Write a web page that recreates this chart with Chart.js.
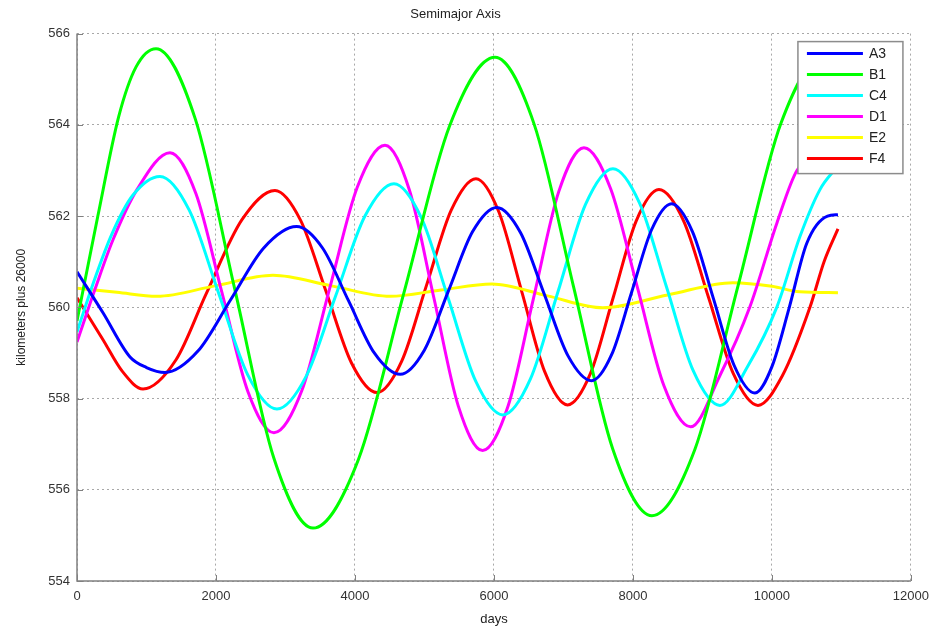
<!DOCTYPE html>
<html>
<head>
<meta charset="utf-8">
<title>Semimajor Axis</title>
<script src="https://cdn.jsdelivr.net/npm/chart.js@4.4.0/dist/chart.umd.min.js"></script>
<style>
  html, body { margin: 0; padding: 0; background: #fff; }
  #wrap { width: 937px; height: 630px; }
</style>
</head>
<body>
<div id="wrap"><canvas id="SemiChart"></canvas></div>
<script>
// values (days, km above 26000)
const a3Days = [0, 374, 763, 1000, 1266, 1740, 2213, 2687, 3160, 3533, 3905, 4278, 4650, 4998, 5345, 5693, 6040, 6381, 6723, 7064, 7405, 7693, 7981, 8268, 8556, 8856, 9156, 9455, 9755, 10000, 10250, 10500, 10800, 10950];
const a3Km   = [560.78, 559.88, 558.91, 558.68, 558.57, 559.04, 560.17, 561.30, 561.77, 561.30, 560.15, 559.00, 558.53, 559.06, 560.36, 561.66, 562.19, 561.64, 560.29, 558.94, 558.39, 558.96, 560.33, 561.70, 562.27, 561.66, 560.20, 558.73, 558.12, 558.70, 560.00, 561.40, 562.00, 562.03];

const b1Days = [0, 300, 600, 850, 1137, 1702, 2267, 2831, 3396, 4051, 4705, 5360, 6014, 6579, 7144, 7708, 8273, 8892, 9512, 10131, 10750, 10950];
const b1Km   = [559.70, 562.00, 564.18, 565.27, 565.67, 564.13, 560.42, 556.70, 555.16, 556.67, 560.32, 563.97, 565.48, 564.01, 560.46, 556.90, 555.43, 556.89, 560.47, 564.04, 565.50, 565.45];

const c4Days = [0, 250, 500, 800, 1194, 1615, 2036, 2457, 2878, 3299, 3720, 4140, 4561, 4953, 5345, 5737, 6129, 6525, 6921, 7316, 7712, 8097, 8482, 8867, 9252, 9650, 10072, 10403, 10691, 10950];
const c4Km   = [559.46, 560.60, 561.60, 562.45, 562.87, 562.13, 560.32, 558.52, 557.77, 558.49, 560.24, 561.99, 562.71, 561.97, 560.18, 558.38, 557.64, 558.43, 560.34, 562.25, 563.04, 562.28, 560.45, 558.61, 557.85, 558.70, 560.01, 561.55, 562.58, 563.10];

const d1Days = [0, 260, 518, 863, 1338, 1712, 2086, 2460, 2834, 3234, 3633, 4033, 4432, 4783, 5135, 5486, 5837, 6202, 6566, 6931, 7295, 7679, 8063, 8446, 8830, 9250, 9683, 10072, 10360, 10650, 10950];
const d1Km   = [559.24, 560.40, 561.48, 562.58, 563.39, 562.49, 560.32, 558.15, 557.25, 558.17, 560.40, 562.63, 563.55, 562.57, 560.21, 557.84, 556.86, 557.83, 560.18, 562.53, 563.50, 562.60, 560.44, 558.28, 557.38, 558.50, 560.01, 561.85, 563.00, 563.30, 563.10];

const e2Days = [0, 575, 1150, 1985, 2820, 3660, 4504, 5240, 5971, 6770, 7568, 8500, 9439, 10000, 10400, 10950];
const e2Km   = [560.42, 560.33, 560.24, 560.47, 560.70, 560.47, 560.24, 560.38, 560.51, 560.25, 559.99, 560.27, 560.54, 560.46, 560.34, 560.32];

const f4Days = [0, 374, 650, 950, 1425, 1860, 2374, 2849, 3216, 3583, 3950, 4317, 4673, 5029, 5385, 5741, 6071, 6401, 6730, 7060, 7389, 7717, 8046, 8374, 8730, 9087, 9443, 9799, 10150, 10547, 10750, 10950];
const f4Km   = [560.21, 559.29, 558.60, 558.21, 558.85, 560.30, 561.92, 562.56, 561.91, 560.35, 558.78, 558.13, 558.82, 560.48, 562.13, 562.82, 562.09, 560.34, 558.59, 557.86, 558.55, 560.22, 561.89, 562.58, 561.89, 560.22, 558.55, 557.85, 558.50, 560.00, 561.00, 561.72];

const seriesNames  = ["A3", "B1", "C4", "D1", "E2", "F4"];
const seriesColors = ["#0000ff", "#00ff00", "#00ffff", "#ff00ff", "#ffff00", "#ff0000"];
const seriesDays   = [a3Days, b1Days, c4Days, d1Days, e2Days, f4Days];
const seriesKm     = [a3Km, b1Km, c4Km, d1Km, e2Km, f4Km];

const FONT = "'Liberation Sans', Arial, Helvetica, sans-serif";

const datasets = seriesNames.map((name, i) => ({
  label: name,
  data: seriesDays[i].map((d, j) => ({ x: d, y: seriesKm[i][j] })),
  borderColor: seriesColors[i],
  backgroundColor: seriesColors[i],
  borderWidth: 3,
  pointRadius: 0,
  cubicInterpolationMode: "monotone",
  fill: false,
}));

// solid left/bottom axis lines with short inward tick marks
const innerTicks = {
  id: "innerTicks",
  afterDraw(chart) {
    const { ctx, chartArea, scales } = chart;
    ctx.save();
    ctx.setLineDash([]);
    ctx.strokeStyle = "#808080";
    ctx.lineWidth = 1;
    ctx.beginPath();
    scales.x.ticks.forEach((t) => {
      const px = Math.round(scales.x.getPixelForValue(t.value)) + 0.5;
      ctx.moveTo(px, chartArea.bottom);
      ctx.lineTo(px, chartArea.bottom - 6);
    });
    scales.y.ticks.forEach((t) => {
      const py = Math.round(scales.y.getPixelForValue(t.value)) + 0.5;
      ctx.moveTo(chartArea.left, py);
      ctx.lineTo(chartArea.left + 6, py);
    });
    ctx.stroke();
    ctx.lineWidth = 1.5;
    ctx.beginPath();
    ctx.moveTo(chartArea.left, chartArea.top);
    ctx.lineTo(chartArea.left, chartArea.bottom);
    ctx.lineTo(chartArea.right, chartArea.bottom);
    ctx.stroke();
    ctx.restore();
  },
};

// matlab style boxed legend in the top right corner of the axes
const boxLegend = {
  id: "boxLegend",
  afterDatasetsDraw(chart) {
    const { ctx, chartArea } = chart;
    const w = 105, h = 132;
    const left = chartArea.right - 8 - w;
    const top = chartArea.top + 8;
    ctx.save();
    ctx.fillStyle = "#fff";
    ctx.fillRect(left, top, w, h);
    ctx.strokeStyle = "#8c8c8c";
    ctx.lineWidth = 1.5;
    ctx.strokeRect(left, top, w, h);
    ctx.font = "14px " + FONT;
    ctx.textBaseline = "middle";
    ctx.textAlign = "left";
    chart.data.datasets.forEach((ds, i) => {
      const y = top + 12 + i * 21;
      ctx.strokeStyle = ds.borderColor;
      ctx.lineWidth = 3;
      ctx.beginPath();
      ctx.moveTo(left + 9, y);
      ctx.lineTo(left + 65, y);
      ctx.stroke();
      ctx.fillStyle = "#222";
      ctx.fillText(ds.label, left + 71, y + 1);
    });
    ctx.restore();
  },
};

const configSemi = {
  type: "line",
  data: { datasets },
  options: {
    responsive: true,
    maintainAspectRatio: false,
    animation: false,
    layout: { padding: { left: 0, right: 26, top: 0, bottom: 0 } },
    plugins: {
      legend: { display: false },
      tooltip: { enabled: false },
      title: {
        display: true,
        text: "Semimajor Axis",
        color: "#222",
        font: { family: FONT, size: 13, weight: "normal" },
        padding: { top: 7, bottom: 11 },
      },
    },
    scales: {
      x: {
        type: "linear",
        min: 0,
        max: 12000,
        afterFit: (scale) => { scale.height = 49; },
        ticks: {
          stepSize: 2000,
          color: "#333",
          padding: 8,
          maxRotation: 0,
          font: { family: FONT, size: 13 },
          callback: (v) => String(v),
        },
        grid: { color: "#a8a8a8", drawTicks: false },
        border: { display: false, dash: [2, 3] },
        title: {
          display: true,
          text: "days",
          color: "#222",
          font: { family: FONT, size: 13 },
          padding: { top: 0, bottom: 3 },
        },
      },
      y: {
        min: 554,
        max: 566,
        afterFit: (scale) => { scale.width = 77; },
        ticks: {
          stepSize: 2,
          color: "#333",
          padding: 7,
          font: { family: FONT, size: 13 },
        },
        grid: { color: "#a8a8a8", drawTicks: false },
        border: { display: false, dash: [2, 3] },
        title: {
          display: true,
          text: "kilometers plus 26000",
          color: "#222",
          font: { family: FONT, size: 12 },
          padding: { top: 14, bottom: 0 },
        },
      },
    },
  },
  plugins: [innerTicks, boxLegend],
};

const SemiChart = new Chart(document.getElementById("SemiChart"), configSemi);
</script>
</body>
</html>
